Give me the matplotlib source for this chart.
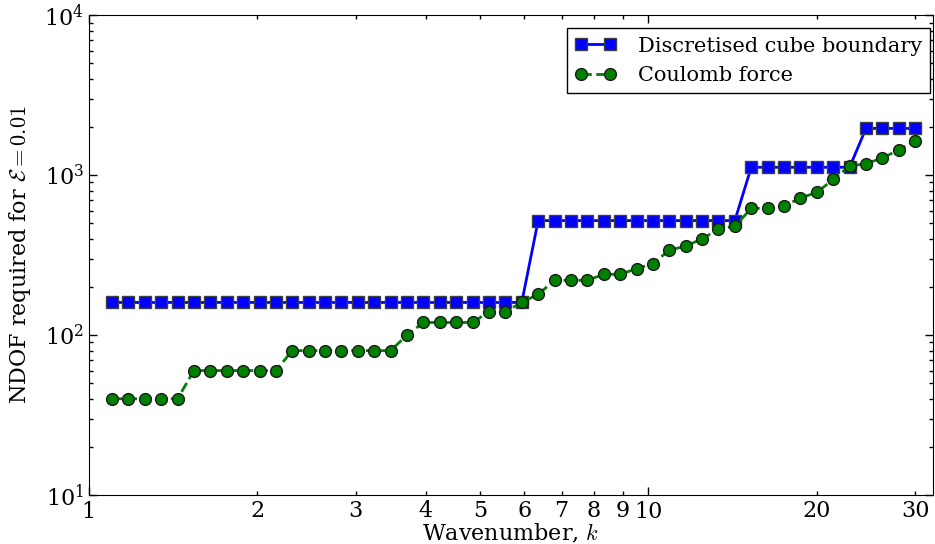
import matplotlib
matplotlib.use('Agg')
import matplotlib.pyplot as plt
from matplotlib.ticker import FuncFormatter, LogLocator

plt.rcParams['font.family'] = 'serif'
plt.rcParams['font.serif'] = ['DejaVu Serif']
plt.rcParams['mathtext.fontset'] = 'cm'
plt.rcParams['font.size'] = 15
plt.rcParams['xtick.direction'] = 'in'
plt.rcParams['ytick.direction'] = 'in'
plt.rcParams['xtick.top'] = True
plt.rcParams['ytick.right'] = True

# wavenumbers (log spaced)
k = [1.100, 1.177, 1.259, 1.347, 1.441, 1.541, 1.649, 1.764, 1.887, 2.019,
     2.160, 2.310, 2.472, 2.644, 2.829, 3.026, 3.237, 3.463, 3.705, 3.964,
     4.240, 4.536, 4.853, 5.191, 5.554, 5.941, 6.356, 6.800, 7.274, 7.782,
     8.325, 8.906, 9.528, 10.192, 10.904, 11.665, 12.479, 13.350, 14.281, 15.278,
     16.344, 17.485, 18.705, 20.011, 21.407, 22.901, 24.500, 26.210, 28.039, 30.000]

ndof_cube = [160] * 26 + [520] * 13 + [1120] * 7 + [1960] * 4

ndof_coulomb = [40, 40, 40, 40, 40,
                60, 60, 60, 60, 60, 60,
                80, 80, 80, 80, 80, 80, 80,
                100, 120, 120, 120, 120, 140, 140, 160, 180,
                220, 220, 220, 240, 240, 260, 280, 340, 360, 400, 460, 480,
                620, 620, 640, 720, 780, 940, 1140, 1180, 1280, 1440, 1640]

fig = plt.figure(figsize=(9.35, 5.44), dpi=100)
ax = fig.add_axes([0.095, 0.09, 0.903, 0.882])

ax.loglog(k, ndof_cube, 'bs-', lw=2, ms=8.5, mec='0.25', label='Discretised cube boundary')
ax.loglog(k, ndof_coulomb, 'go--', lw=2, ms=8.5, mec='0.1', label='Coulomb force')

ax.set_xlim(1, 32.3)
ax.set_ylim(10, 1e4)

intfmt = FuncFormatter(lambda v, p: '%d' % round(v))
ax.xaxis.set_major_formatter(intfmt)
ax.xaxis.set_minor_locator(LogLocator(subs=range(2, 10)))
ax.xaxis.set_minor_formatter(intfmt)
ax.tick_params(which='major', length=6, width=1, labelsize=16)
ax.tick_params(which='minor', length=3, width=1, labelsize=16)
ax.tick_params(axis='x', pad=4)

ax.set_xlabel('Wavenumber, $k$', fontsize=16, labelpad=0)
ax.set_ylabel(r'NDOF required for $\mathcal{E}=0.01$', fontsize=16)
ax.yaxis.set_label_coords(-0.066, 0.5)

ax.legend(loc='upper right', bbox_to_anchor=(0.9964, 0.973), borderaxespad=0,
          numpoints=2, fancybox=False, edgecolor='k', framealpha=1,
          handlelength=2, handletextpad=1)

fig.savefig('out.png', dpi=100)
